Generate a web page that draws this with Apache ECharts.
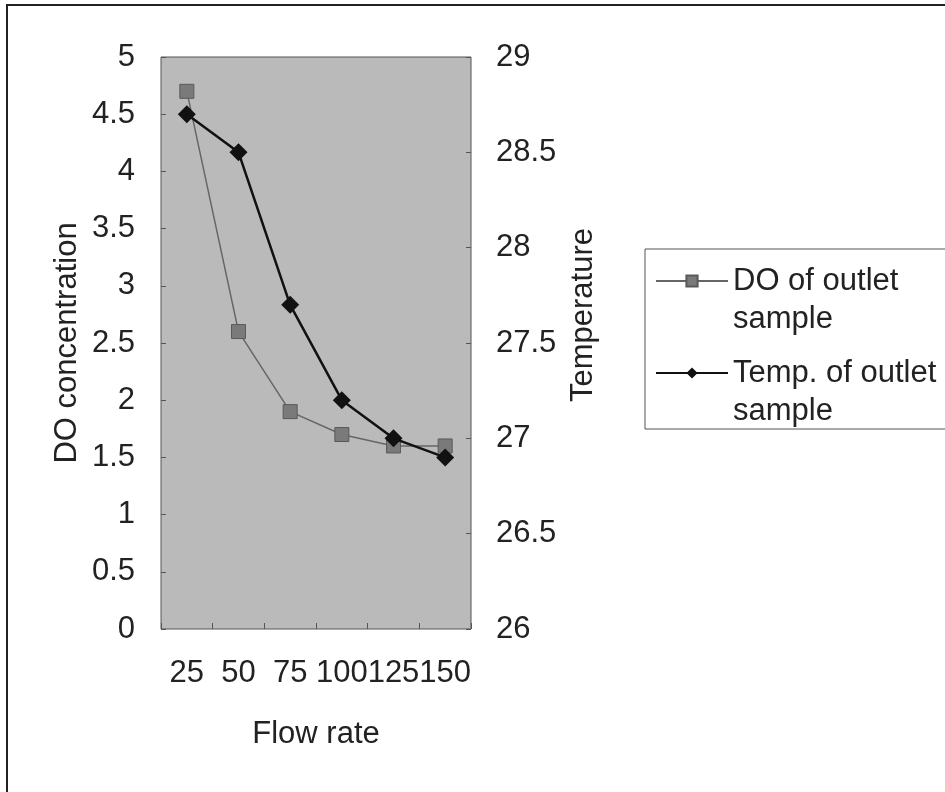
<!DOCTYPE html>
<html>
<head>
<meta charset="utf-8">
<script src="https://cdn.jsdelivr.net/npm/echarts@6/dist/echarts.min.js"></script>
<style>
  html, body { margin: 0; padding: 0; background: #fff; }
  #chart { width: 945px; height: 792px; }
</style>
</head>
<body>
<div id="chart"></div>
<script>
// flow rate categories and the two measured series
const flowRates = ['25', '50', '75', '100', '125', '150'];
const doValues = [4.7, 2.6, 1.9, 1.7, 1.6, 1.6];
const tempValues = [28.7, 28.5, 27.7, 27.2, 27.0, 26.9];
const seriesNames = ['DO of outlet sample', 'Temp. of outlet sample'];

const font = 'Liberation Sans, Arial, sans-serif';
const textColor = '#222';
const fs = 31;

const myChart = echarts.init(document.getElementById('chart'));

const option = {
  animation: false,
  backgroundColor: '#fff',
  textStyle: { fontFamily: font },
  grid: {
    left: 161,
    top: 57,
    width: 310,
    height: 572,
    show: true,
    backgroundColor: '#bababa',
    borderColor: '#555',
    borderWidth: 1
  },
  legend: {
    orient: 'vertical',
    left: 655,
    top: 224,
    padding: 0,
    itemGap: -22,
    itemWidth: 72,
    itemHeight: 14,
    data: seriesNames,
    formatter: function (name) {
      // empty first line so the icon sits level with the first real line
      return '\n' + name.replace(' outlet ', ' outlet\n');
    },
    textStyle: {
      fontSize: fs,
      color: textColor,
      fontFamily: font,
      lineHeight: 38
    }
  },
  xAxis: {
    type: 'category',
    data: flowRates,
    boundaryGap: true,
    name: 'Flow rate',
    nameLocation: 'middle',
    nameGap: 90,
    nameTextStyle: { fontSize: fs, color: textColor, fontFamily: font },
    axisLine: { show: false },
    axisTick: { show: true, inside: true, length: 6, lineStyle: { color: '#555' } },
    axisLabel: { interval: 0, margin: 29, fontSize: fs, color: textColor, fontFamily: font },
    splitLine: { show: false }
  },
  yAxis: [
    {
      type: 'value',
      position: 'left',
      min: 0,
      max: 5,
      interval: 0.5,
      name: 'DO concentration',
      nameLocation: 'middle',
      nameGap: 78,
      nameTextStyle: { fontSize: fs, color: textColor, fontFamily: font },
      axisLine: { show: false },
      axisTick: { show: true, inside: true, length: 5, lineStyle: { color: '#555' } },
      axisLabel: { margin: 26, fontSize: fs, color: textColor, fontFamily: font },
      splitLine: { show: false }
    },
    {
      type: 'value',
      position: 'right',
      min: 26,
      max: 29,
      interval: 0.5,
      axisLine: { show: false },
      axisTick: { show: true, inside: true, length: 5, lineStyle: { color: '#555' } },
      axisLabel: { margin: 25, fontSize: fs, color: textColor, fontFamily: font },
      splitLine: { show: false }
    }
  ],
  series: [
    {
      name: seriesNames[0],
      type: 'line',
      yAxisIndex: 0,
      data: doValues,
      symbol: 'rect',
      symbolSize: 14,
      lineStyle: { color: '#666', width: 1.5 },
      itemStyle: { color: '#7a7a7a', borderColor: '#5a5a5a', borderWidth: 1 },
      z: 2
    },
    {
      name: seriesNames[1],
      type: 'line',
      yAxisIndex: 1,
      data: tempValues,
      symbol: 'diamond',
      symbolSize: 18,
      lineStyle: { color: '#111', width: 2.5 },
      itemStyle: { color: '#111' },
      z: 3
    }
  ],
  graphic: [
    {
      type: 'rect',
      shape: { x: 7, y: 5, width: 1000, height: 1000 },
      style: { fill: 'none', stroke: '#222', lineWidth: 2 },
      silent: true
    },
    {
      // legend frame, runs off the right edge like the original
      type: 'rect',
      shape: { x: 645, y: 249, width: 400, height: 180 },
      style: { fill: 'none', stroke: '#555', lineWidth: 1 },
      silent: true
    },
    {
      type: 'text',
      x: 583,
      y: 315,
      rotation: Math.PI / 2,
      style: {
        text: 'Temperature',
        fontSize: fs,
        fontFamily: font,
        fill: textColor,
        align: 'center',
        verticalAlign: 'middle'
      }
    }
  ]
};

myChart.setOption(option);
</script>
</body>
</html>
